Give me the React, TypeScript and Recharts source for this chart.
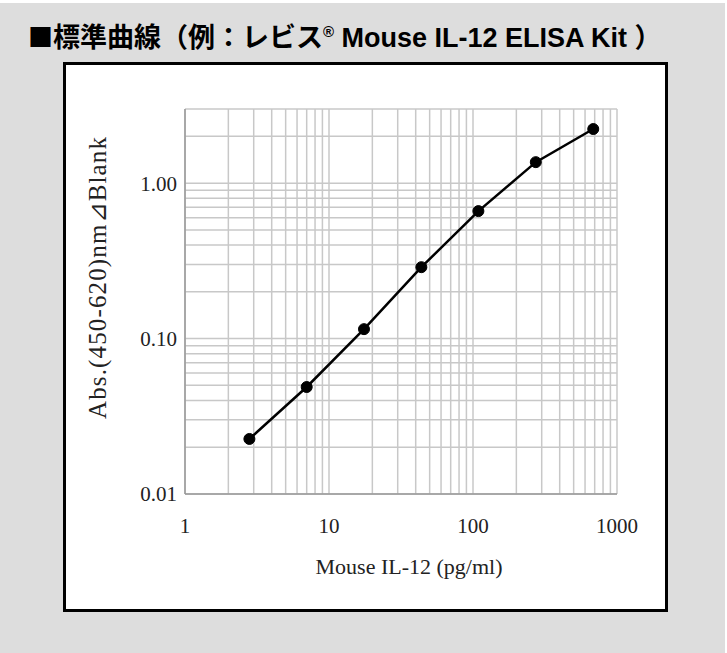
import { LineChart, Line, XAxis, YAxis, CartesianGrid, Label } from "recharts";

const concentrations = [2.8, 7.0, 17.5, 43.8, 109, 273, 684];
const absorbance = [0.0226, 0.0488, 0.115, 0.288, 0.661, 1.365, 2.23];

const xTicks = [1, 10, 100, 1000];
const yTicks = [0.01, 0.1, 1];

const xGrid = [
  1, 2, 3, 4, 5, 6, 7, 8, 9, 10,
  20, 30, 40, 50, 60, 70, 80, 90, 100,
  200, 300, 400, 500, 600, 700, 800, 900, 1000,
];
const yGrid = [
  0.01, 0.02, 0.03, 0.04, 0.05, 0.06, 0.07, 0.08, 0.09, 0.1,
  0.2, 0.3, 0.4, 0.5, 0.6, 0.7, 0.8, 0.9, 1, 2, 3,
];

const data = concentrations.map((c, i) => ({ conc: c, abs: absorbance[i] }));

const serif = '"Liberation Serif", "DejaVu Serif", serif';
const tickStyle = { fill: "#222", fontFamily: serif, fontSize: 21 };

export default function App() {
  return (
    <div
      style={{
        position: "absolute",
        left: 0,
        top: 0,
        width: 727,
        height: 653,
        background: "#fff",
      }}
    >
      <div
        style={{
          position: "absolute",
          left: 0,
          top: 3,
          width: 725,
          height: 650,
          background: "#dddddd",
        }}
      />
      <div
        style={{
          position: "absolute",
          left: 28,
          top: 14,
          fontFamily: '"Liberation Sans", Arial, "Noto Sans CJK JP", sans-serif',
          fontWeight: "bold",
          fontSize: 27,
          lineHeight: "36px",
          color: "#000",
          whiteSpace: "nowrap",
        }}
      >
        <span style={{ fontFamily: '"Noto Sans CJK JP", sans-serif', fontSize: 25 }}>■</span>
        標準曲線（例：レビス<sup style={{ fontSize: 15 }}>®</sup> Mouse IL-12 ELISA Kit ）
      </div>
      <div
        style={{
          position: "absolute",
          left: 63,
          top: 62,
          width: 599,
          height: 544,
          background: "#fff",
          border: "3px solid #000",
        }}
      />
      <div style={{ position: "absolute", left: 0, top: 0 }}>
        <LineChart
          width={727}
          height={653}
          data={data}
          margin={{ top: 109, right: 110, left: 0, bottom: 79 }}
        >
          <CartesianGrid
            stroke="#c8c8c8"
            strokeWidth={1.5}
            horizontalValues={yGrid}
            verticalValues={xGrid}
          />
          <XAxis
            dataKey="conc"
            type="number"
            scale="log"
            domain={[1, 1000]}
            allowDataOverflow
            ticks={xTicks}
            interval={0}
            tickSize={0}
            tickMargin={24}
            height={80}
            tick={tickStyle}
            axisLine={{ stroke: "#999", strokeWidth: 1.5 }}
          >
            <Label
              content={() => (
                <text
                  x={409}
                  y={574}
                  textAnchor="middle"
                  fontFamily={serif}
                  fontSize={22}
                  fill="#222"
                >
                  Mouse IL-12 (pg/ml)
                </text>
              )}
            />
          </XAxis>
          <YAxis
            dataKey="abs"
            type="number"
            scale="log"
            domain={[0.01, 3]}
            allowDataOverflow
            ticks={yTicks}
            interval={0}
            tickSize={0}
            tickMargin={8}
            width={185}
            tick={tickStyle}
            tickFormatter={(v: number) => v.toFixed(2)}
            axisLine={{ stroke: "#999", strokeWidth: 1.5 }}
          >
            <Label
              content={() => (
                <text
                  x={0}
                  y={0}
                  transform="translate(106 278) rotate(-90)"
                  textAnchor="middle"
                  fontFamily={serif}
                  fontSize={25}
                  textLength={282}
                  lengthAdjust="spacing"
                  fill="#222"
                >
                  Abs.(450-620)nm⊿Blank
                </text>
              )}
            />
          </YAxis>
          <Line
            type="linear"
            dataKey="abs"
            stroke="#000"
            strokeWidth={2.5}
            dot={{ r: 5.5, fill: "#000", stroke: "#000", strokeWidth: 1 }}
            isAnimationActive={false}
          />
        </LineChart>
      </div>
    </div>
  );
}
